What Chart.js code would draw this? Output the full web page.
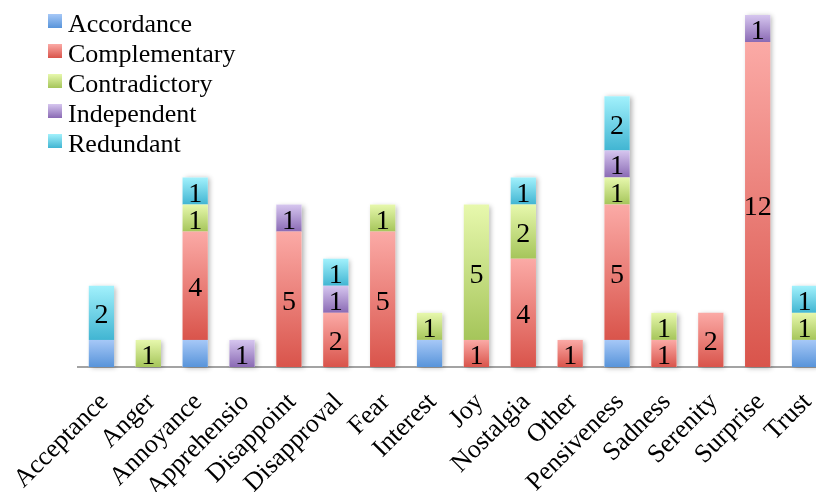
<!DOCTYPE html>
<html>
<head>
<meta charset="utf-8">
<script src="https://cdn.jsdelivr.net/npm/chart.js@4/dist/chart.umd.min.js"></script>
<style>
  html, body { margin: 0; padding: 0; background: #fff; overflow: hidden; width: 816px; height: 492px; }
  #wrap { position: absolute; left: 0; top: 0; width: 830px; height: 492px; }
</style>
</head>
<body>
<div id="wrap"><canvas id="c" width="830" height="492"></canvas></div>
<script>
// Emotion categories (labels as they appear on the axis)
const categories = ['Acceptance', 'Anger', 'Annoyance', 'Apprehensio', 'Disappoint', 'Disapproval',
  'Fear', 'Interest', 'Joy', 'Nostalgia', 'Other', 'Pensiveness', 'Sadness', 'Serenity', 'Surprise', 'Trust'];

// Counts per relation type, one value per category
const accordance    = [1, 0, 1, 0, 0, 0, 0, 1, 0, 0, 0, 1, 0, 0, 0, 1];
const complementary = [0, 0, 4, 0, 5, 2, 5, 0, 1, 4, 1, 5, 1, 2, 12, 0];
const contradictory = [0, 1, 1, 0, 0, 0, 1, 1, 5, 2, 0, 1, 1, 0, 0, 1];
const independent   = [0, 0, 0, 1, 1, 1, 0, 0, 0, 0, 0, 1, 0, 0, 1, 0];
const redundant     = [2, 0, 1, 0, 0, 1, 0, 0, 0, 1, 0, 2, 0, 0, 0, 1];

const seriesNames = ['Accordance', 'Complementary', 'Contradictory', 'Independent', 'Redundant'];
const seriesData = [accordance, complementary, contradictory, independent, redundant];

// light (top) and dark (bottom) stops of each series' vertical gradient
const gradientStops = [
  ['#a6c8f7', '#5894da'],
  ['#fbaaa6', '#d9544b'],
  ['#e7f8ad', '#a5c55a'],
  ['#d6c6ef', '#8a6ab4'],
  ['#a2f1fc', '#41b5d2']
];

const SERIF = '"Liberation Serif", "Times New Roman", serif';

function segmentFill(context) {
  const d = context.datasetIndex;
  const stops = gradientStops[d];
  const chart = context.chart;
  const yScale = chart.scales && chart.scales.y;
  if (context.type !== 'data' || !yScale) return stops[1];
  const i = context.dataIndex;
  let start = 0;
  for (let k = 0; k < d; k++) start += chart.data.datasets[k].data[i] || 0;
  const end = start + (chart.data.datasets[d].data[i] || 0);
  const yTop = yScale.getPixelForValue(end);
  const yBot = yScale.getPixelForValue(start);
  if (!isFinite(yTop) || !isFinite(yBot) || yTop === yBot) return stops[1];
  const g = chart.ctx.createLinearGradient(0, yTop, 0, yBot);
  g.addColorStop(0, stops[0]);
  g.addColorStop(1, stops[1]);
  return g;
}

// soft drop shadow behind each whole stacked column
const columnShadow = {
  id: 'columnShadow',
  beforeDatasetsDraw(chart) {
    const ctx = chart.ctx;
    const yScale = chart.scales.y;
    const meta0 = chart.getDatasetMeta(0);
    ctx.save();
    ctx.shadowColor = 'rgba(0,0,0,0.30)';
    ctx.shadowBlur = 5;
    ctx.shadowOffsetX = 2;
    ctx.shadowOffsetY = 1;
    ctx.fillStyle = '#ffffff';
    meta0.data.forEach((el, i) => {
      let total = 0;
      chart.data.datasets.forEach(ds => { total += ds.data[i] || 0; });
      if (!total) return;
      const top = yScale.getPixelForValue(total);
      const base = yScale.getPixelForValue(0);
      const w = el.width;
      ctx.fillRect(el.x - w / 2, top, w, base - top);
    });
    ctx.restore();
  }
};

// value printed in the middle of each segment (Accordance segments are left blank)
const segmentValues = {
  id: 'segmentValues',
  afterDatasetsDraw(chart) {
    const ctx = chart.ctx;
    ctx.save();
    ctx.font = '28px ' + SERIF;
    ctx.fillStyle = '#000';
    ctx.textAlign = 'center';
    ctx.textBaseline = 'alphabetic';
    chart.data.datasets.forEach((ds, d) => {
      if (d === 0) return;
      const meta = chart.getDatasetMeta(d);
      meta.data.forEach((el, i) => {
        const v = ds.data[i];
        if (!v) return;
        const mid = (el.y + el.base) / 2;
        ctx.fillText(String(v), el.x, mid + 10.5);
      });
    });
    ctx.restore();
  }
};

// legend in the upper-left corner
const cornerLegend = {
  id: 'cornerLegend',
  afterDraw(chart) {
    const ctx = chart.ctx;
    ctx.save();
    ctx.font = '26px ' + SERIF;
    ctx.textAlign = 'left';
    ctx.textBaseline = 'alphabetic';
    seriesNames.forEach((name, k) => {
      const cy = 21 + k * 30;
      const g = ctx.createLinearGradient(0, cy - 7, 0, cy + 7);
      g.addColorStop(0, gradientStops[k][0]);
      g.addColorStop(1, gradientStops[k][1]);
      ctx.fillStyle = g;
      ctx.fillRect(48, cy - 7, 14, 14);
      ctx.fillStyle = '#000';
      ctx.fillText(name, 68, cy + 11);
    });
    ctx.restore();
  }
};

new Chart(document.getElementById('c'), {
  type: 'bar',
  data: {
    labels: categories,
    datasets: seriesNames.map((name, k) => ({
      label: name,
      data: seriesData[k],
      backgroundColor: segmentFill,
      borderWidth: 0,
      categoryPercentage: 1.0,
      barPercentage: 0.54
    }))
  },
  options: {
    responsive: false,
    animation: false,
    devicePixelRatio: 1,
    layout: { padding: { left: 78, right: 2, top: 15, bottom: 0 } },
    plugins: {
      legend: { display: false },
      tooltip: { enabled: false }
    },
    scales: {
      x: {
        stacked: true,
        grid: { display: false, drawTicks: false },
        border: { display: true, color: '#a3a3a3', width: 2 },
        ticks: {
          autoSkip: false,
          maxRotation: 45,
          minRotation: 45,
          padding: 20,
          labelOffset: 3,
          color: '#000',
          font: { family: SERIF, size: 26 }
        },
        afterFit(scale) {
          scale.height = 125;
          scale.paddingLeft = 0;
          scale.paddingRight = 0;
        }
      },
      y: {
        stacked: true,
        display: false,
        min: 0,
        max: 13
      }
    }
  },
  plugins: [columnShadow, segmentValues, cornerLegend]
});
</script>
</body>
</html>
